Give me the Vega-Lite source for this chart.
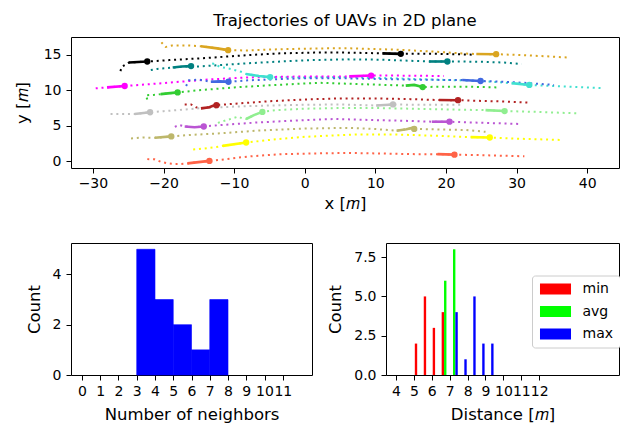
{
  "$schema": "https://vega.github.io/schema/vega-lite/v6.json",
  "padding": {"left": 13, "top": 12, "right": 0, "bottom": 0},
  "spacing": 30,
  "resolve": {"scale": {"color": "independent"}, "legend": {"color": "independent"}},
  "config": {
    "font": "DejaVu Sans",
    "view": {"stroke": "#000", "strokeWidth": 1},
    "axis": {"grid": false, "domain": false, "tickColor": "#000", "tickSize": 5, "tickWidth": 1, "labelColor": "#000", "labelFontSize": 14, "labelPadding": 3, "titleColor": "#000", "titleFontSize": 16.5, "titleFontWeight": "normal", "labelFlush": false, "labelOverlap": false},
    "axisY": {"labelPadding": 5},
    "title": {"fontSize": 16.5, "fontWeight": "normal", "color": "#000"}
  },
  "datasets": {
    "paths": [
      {"u":"U01","i":0,"x":-20.3,"y":16.75},{"u":"U01","i":1,"x":-19.7,"y":16.1},{"u":"U01","i":2,"x":-18.8,"y":16.3},{"u":"U01","i":3,"x":-16.4,"y":16.3},{"u":"U01","i":4,"x":-14.7,"y":16.2},{"u":"U01","i":5,"x":-12.4,"y":15.9},{"u":"U01","i":6,"x":-10.85,"y":15.65},{"u":"U01","i":7,"x":-8.3,"y":15.6},{"u":"U01","i":8,"x":-5.7,"y":15.7},{"u":"U01","i":9,"x":-2.9,"y":15.8},{"u":"U01","i":10,"x":0,"y":15.85},{"u":"U01","i":11,"x":3,"y":15.9},{"u":"U01","i":12,"x":6.5,"y":15.9},{"u":"U01","i":13,"x":10,"y":15.8},{"u":"U01","i":14,"x":13.4,"y":15.7},{"u":"U01","i":15,"x":18.1,"y":15.45},{"u":"U01","i":16,"x":22,"y":15.2},{"u":"U01","i":17,"x":24.3,"y":15.1},{"u":"U01","i":18,"x":27.1,"y":15.08},{"u":"U01","i":19,"x":30.6,"y":14.95},{"u":"U01","i":20,"x":33.9,"y":14.8},{"u":"U01","i":21,"x":37.4,"y":14.6},
      {"u":"U02","i":0,"x":-26.1,"y":12.7},{"u":"U02","i":1,"x":-25.9,"y":13.3},{"u":"U02","i":2,"x":-25.1,"y":13.8},{"u":"U02","i":3,"x":-24.9,"y":13.9},{"u":"U02","i":4,"x":-22.3,"y":14.05},{"u":"U02","i":5,"x":-19.2,"y":14.25},{"u":"U02","i":6,"x":-16.4,"y":14.4},{"u":"U02","i":7,"x":-13.1,"y":14.6},{"u":"U02","i":8,"x":-8.1,"y":14.95},{"u":"U02","i":9,"x":-3.4,"y":15.2},{"u":"U02","i":10,"x":1.3,"y":15.3},{"u":"U02","i":11,"x":6,"y":15.3},{"u":"U02","i":12,"x":11,"y":15.2},{"u":"U02","i":13,"x":13.6,"y":15.13},{"u":"U02","i":14,"x":17,"y":15.15},{"u":"U02","i":15,"x":20.4,"y":15.1},{"u":"U02","i":16,"x":24,"y":15.0},
      {"u":"U03","i":0,"x":-21.8,"y":12.85},{"u":"U03","i":1,"x":-20.9,"y":13.0},{"u":"U03","i":2,"x":-18.7,"y":13.2},{"u":"U03","i":3,"x":-16.1,"y":13.4},{"u":"U03","i":4,"x":-15,"y":13.35},{"u":"U03","i":5,"x":-12.8,"y":13.5},{"u":"U03","i":6,"x":-8,"y":13.8},{"u":"U03","i":7,"x":-3.4,"y":14.05},{"u":"U03","i":8,"x":1,"y":14.25},{"u":"U03","i":9,"x":6,"y":14.35},{"u":"U03","i":10,"x":11,"y":14.3},{"u":"U03","i":11,"x":15,"y":14.15},{"u":"U03","i":12,"x":17.6,"y":14.05},{"u":"U03","i":13,"x":20.2,"y":14.05},{"u":"U03","i":14,"x":22,"y":14.05},{"u":"U03","i":15,"x":25.3,"y":14.0},{"u":"U03","i":16,"x":28.2,"y":13.9},{"u":"U03","i":17,"x":30.7,"y":13.7},
      {"u":"U04","i":0,"x":-13.1,"y":13.8},{"u":"U04","i":1,"x":-12,"y":13.3},{"u":"U04","i":2,"x":-10.5,"y":13.0},{"u":"U04","i":3,"x":-9,"y":12.6},{"u":"U04","i":4,"x":-8.3,"y":12.3},{"u":"U04","i":5,"x":-6.5,"y":12.0},{"u":"U04","i":6,"x":-4.9,"y":11.85},{"u":"U04","i":7,"x":0,"y":11.8},{"u":"U04","i":8,"x":5,"y":11.85},{"u":"U04","i":9,"x":10,"y":11.75},{"u":"U04","i":10,"x":15,"y":11.6},{"u":"U04","i":11,"x":20,"y":11.45},{"u":"U04","i":12,"x":25,"y":11.3},{"u":"U04","i":13,"x":29.3,"y":11.0},{"u":"U04","i":14,"x":31.8,"y":10.75},{"u":"U04","i":15,"x":35,"y":10.6},{"u":"U04","i":16,"x":38.5,"y":10.45},{"u":"U04","i":17,"x":42.2,"y":10.3},
      {"u":"U05","i":0,"x":-29.6,"y":10.27},{"u":"U05","i":1,"x":-28.6,"y":10.35},{"u":"U05","i":2,"x":-28,"y":10.4},{"u":"U05","i":3,"x":-25.5,"y":10.6},{"u":"U05","i":4,"x":-23.4,"y":10.75},{"u":"U05","i":5,"x":-20.1,"y":11.0},{"u":"U05","i":6,"x":-16.4,"y":11.3},{"u":"U05","i":7,"x":-13.1,"y":11.55},{"u":"U05","i":8,"x":-8.1,"y":11.8},{"u":"U05","i":9,"x":-3.4,"y":11.9},{"u":"U05","i":10,"x":1.3,"y":11.95},{"u":"U05","i":11,"x":6.3,"y":11.95},{"u":"U05","i":12,"x":9.4,"y":12.07},{"u":"U05","i":13,"x":11,"y":12.07},{"u":"U05","i":14,"x":15.7,"y":12.05},{"u":"U05","i":15,"x":19.7,"y":12.0},
      {"u":"U06","i":0,"x":-16.8,"y":10.6},{"u":"U06","i":1,"x":-16.4,"y":11.4},{"u":"U06","i":2,"x":-15,"y":11.5},{"u":"U06","i":3,"x":-13.3,"y":11.2},{"u":"U06","i":4,"x":-12,"y":11.25},{"u":"U06","i":5,"x":-10.8,"y":11.2},{"u":"U06","i":6,"x":-8,"y":11.4},{"u":"U06","i":7,"x":-4,"y":11.55},{"u":"U06","i":8,"x":0,"y":11.7},{"u":"U06","i":9,"x":5,"y":11.7},{"u":"U06","i":10,"x":10,"y":11.6},{"u":"U06","i":11,"x":15,"y":11.5},{"u":"U06","i":12,"x":20,"y":11.45},{"u":"U06","i":13,"x":22.3,"y":11.45},{"u":"U06","i":14,"x":24.9,"y":11.3},{"u":"U06","i":15,"x":27,"y":11.25},{"u":"U06","i":16,"x":31,"y":11.05},{"u":"U06","i":17,"x":35.3,"y":10.75},
      {"u":"U07","i":0,"x":-22.3,"y":8.7},{"u":"U07","i":1,"x":-22.5,"y":9.3},{"u":"U07","i":2,"x":-21.3,"y":9.35},{"u":"U07","i":3,"x":-20.4,"y":9.45},{"u":"U07","i":4,"x":-18,"y":9.7},{"u":"U07","i":5,"x":-15,"y":10.0},{"u":"U07","i":6,"x":-10,"y":10.4},{"u":"U07","i":7,"x":-5,"y":10.7},{"u":"U07","i":8,"x":0,"y":10.95},{"u":"U07","i":9,"x":2,"y":11.05},{"u":"U07","i":10,"x":5,"y":10.95},{"u":"U07","i":11,"x":10,"y":10.8},{"u":"U07","i":12,"x":14.3,"y":10.65},{"u":"U07","i":13,"x":15.5,"y":10.75},{"u":"U07","i":14,"x":16.7,"y":10.45},{"u":"U07","i":15,"x":19,"y":10.5},{"u":"U07","i":16,"x":23,"y":10.5},{"u":"U07","i":17,"x":27.3,"y":10.4},
      {"u":"U08","i":0,"x":-17,"y":8.0},{"u":"U08","i":1,"x":-16.1,"y":8.0},{"u":"U08","i":2,"x":-15.4,"y":7.6},{"u":"U08","i":3,"x":-14.7,"y":7.45},{"u":"U08","i":4,"x":-13.5,"y":7.6},{"u":"U08","i":5,"x":-13,"y":7.8},{"u":"U08","i":6,"x":-12.5,"y":7.9},{"u":"U08","i":7,"x":-10,"y":8.1},{"u":"U08","i":8,"x":-5,"y":8.45},{"u":"U08","i":9,"x":0,"y":8.7},{"u":"U08","i":10,"x":5,"y":8.85},{"u":"U08","i":11,"x":10,"y":8.85},{"u":"U08","i":12,"x":15,"y":8.75},{"u":"U08","i":13,"x":19,"y":8.62},{"u":"U08","i":14,"x":21.7,"y":8.6},{"u":"U08","i":15,"x":25,"y":8.5},{"u":"U08","i":16,"x":28.7,"y":8.4},{"u":"U08","i":17,"x":32,"y":8.25},
      {"u":"U09","i":0,"x":-27.5,"y":6.65},{"u":"U09","i":1,"x":-25.8,"y":6.65},{"u":"U09","i":2,"x":-24.1,"y":6.65},{"u":"U09","i":3,"x":-21.9,"y":6.9},{"u":"U09","i":4,"x":-20,"y":7.05},{"u":"U09","i":5,"x":-15,"y":7.45},{"u":"U09","i":6,"x":-10,"y":7.7},{"u":"U09","i":7,"x":-5,"y":7.85},{"u":"U09","i":8,"x":0,"y":7.95},{"u":"U09","i":9,"x":5,"y":8.0},{"u":"U09","i":10,"x":10.1,"y":7.85},{"u":"U09","i":11,"x":12.5,"y":8.0},{"u":"U09","i":12,"x":16,"y":7.95},{"u":"U09","i":13,"x":22.4,"y":7.95},
      {"u":"U10","i":0,"x":-12.3,"y":5.4},{"u":"U10","i":1,"x":-11.2,"y":5.75},{"u":"U10","i":2,"x":-10.2,"y":6.05},{"u":"U10","i":3,"x":-9.4,"y":6.3},{"u":"U10","i":4,"x":-8.8,"y":6.0},{"u":"U10","i":5,"x":-8.3,"y":5.95},{"u":"U10","i":6,"x":-7.2,"y":6.5},{"u":"U10","i":7,"x":-6,"y":6.95},{"u":"U10","i":8,"x":-4.1,"y":7.2},{"u":"U10","i":9,"x":0,"y":7.4},{"u":"U10","i":10,"x":5,"y":7.5},{"u":"U10","i":11,"x":10,"y":7.5},{"u":"U10","i":12,"x":15,"y":7.4},{"u":"U10","i":13,"x":20,"y":7.3},{"u":"U10","i":14,"x":25.6,"y":7.2},{"u":"U10","i":15,"x":28.3,"y":7.07},{"u":"U10","i":16,"x":33,"y":6.95},{"u":"U10","i":17,"x":38.5,"y":6.75},
      {"u":"U11","i":0,"x":-18.4,"y":4.85},{"u":"U11","i":1,"x":-17.8,"y":5.1},{"u":"U11","i":2,"x":-17,"y":4.9},{"u":"U11","i":3,"x":-15.6,"y":4.8},{"u":"U11","i":4,"x":-14.3,"y":4.9},{"u":"U11","i":5,"x":-11.9,"y":5.1},{"u":"U11","i":6,"x":-6.9,"y":5.45},{"u":"U11","i":7,"x":0,"y":5.8},{"u":"U11","i":8,"x":4.3,"y":5.95},{"u":"U11","i":9,"x":9.9,"y":5.8},{"u":"U11","i":10,"x":15.5,"y":5.66},{"u":"U11","i":11,"x":18,"y":5.57},{"u":"U11","i":12,"x":20.5,"y":5.57},{"u":"U11","i":13,"x":23.9,"y":5.45},{"u":"U11","i":14,"x":30.6,"y":5.25},
      {"u":"U12","i":0,"x":-24.6,"y":3.2},{"u":"U12","i":1,"x":-22.9,"y":3.35},{"u":"U12","i":2,"x":-21.2,"y":3.3},{"u":"U12","i":3,"x":-18.9,"y":3.5},{"u":"U12","i":4,"x":-16.4,"y":3.7},{"u":"U12","i":5,"x":-12.5,"y":3.9},{"u":"U12","i":6,"x":-6.9,"y":4.3},{"u":"U12","i":7,"x":0,"y":4.6},{"u":"U12","i":8,"x":6,"y":4.7},{"u":"U12","i":9,"x":9.9,"y":4.55},{"u":"U12","i":10,"x":13,"y":4.3},{"u":"U12","i":11,"x":14.4,"y":4.5},{"u":"U12","i":12,"x":15.2,"y":4.7},{"u":"U12","i":13,"x":15.5,"y":4.55},{"u":"U12","i":14,"x":18.3,"y":4.5},{"u":"U12","i":15,"x":22.8,"y":4.4},{"u":"U12","i":16,"x":25.6,"y":4.15},
      {"u":"U13","i":0,"x":-15.8,"y":1.65},{"u":"U13","i":1,"x":-14.2,"y":1.8},{"u":"U13","i":2,"x":-12.5,"y":2.0},{"u":"U13","i":3,"x":-11.6,"y":2.17},{"u":"U13","i":4,"x":-8.3,"y":2.64},{"u":"U13","i":5,"x":-4.1,"y":3.1},{"u":"U13","i":6,"x":0,"y":3.44},{"u":"U13","i":7,"x":7.1,"y":3.77},{"u":"U13","i":8,"x":12.7,"y":3.77},{"u":"U13","i":9,"x":18.3,"y":3.6},{"u":"U13","i":10,"x":23.5,"y":3.4},{"u":"U13","i":11,"x":26.2,"y":3.35},{"u":"U13","i":12,"x":29.5,"y":3.2},{"u":"U13","i":13,"x":36.2,"y":3.0},
      {"u":"U14","i":0,"x":-22.3,"y":0.3},{"u":"U14","i":1,"x":-21.3,"y":0.28},{"u":"U14","i":2,"x":-20.4,"y":-0.07},{"u":"U14","i":3,"x":-19.4,"y":-0.3},{"u":"U14","i":4,"x":-18.5,"y":-0.4},{"u":"U14","i":5,"x":-17.6,"y":-0.4},{"u":"U14","i":6,"x":-16.6,"y":-0.3},{"u":"U14","i":7,"x":-13.5,"y":0.05},{"u":"U14","i":8,"x":-12.8,"y":0.1},{"u":"U14","i":9,"x":-8.1,"y":0.66},{"u":"U14","i":10,"x":-3.4,"y":1.0},{"u":"U14","i":11,"x":1.3,"y":1.1},{"u":"U14","i":12,"x":6.3,"y":1.17},{"u":"U14","i":13,"x":15.7,"y":1.0},{"u":"U14","i":14,"x":18.8,"y":1.0},{"u":"U14","i":15,"x":21.2,"y":0.93},{"u":"U14","i":16,"x":25.4,"y":0.85},{"u":"U14","i":17,"x":31.1,"y":0.7}
    ],
    "tails": [
      {"u":"U01","s":"a","i":0,"x":-14.7,"y":16.2},{"u":"U01","s":"a","i":1,"x":-12.4,"y":15.9},{"u":"U01","s":"a","i":2,"x":-10.85,"y":15.65},
      {"u":"U01","s":"b","i":0,"x":24.3,"y":15.1},{"u":"U01","s":"b","i":1,"x":27.1,"y":15.08},
      {"u":"U02","s":"a","i":0,"x":-24.9,"y":13.9},{"u":"U02","s":"a","i":1,"x":-22.3,"y":14.05},
      {"u":"U02","s":"b","i":0,"x":11,"y":15.2},{"u":"U02","s":"b","i":1,"x":13.6,"y":15.13},
      {"u":"U03","s":"a","i":0,"x":-18.7,"y":13.2},{"u":"U03","s":"a","i":1,"x":-17.4,"y":13.35},{"u":"U03","s":"a","i":2,"x":-16.1,"y":13.4},
      {"u":"U03","s":"b","i":0,"x":17.6,"y":14.05},{"u":"U03","s":"b","i":1,"x":20.2,"y":14.05},
      {"u":"U04","s":"a","i":0,"x":-8.3,"y":12.3},{"u":"U04","s":"a","i":1,"x":-6.5,"y":12.0},{"u":"U04","s":"a","i":2,"x":-4.9,"y":11.85},
      {"u":"U04","s":"b","i":0,"x":29.3,"y":11.0},{"u":"U04","s":"b","i":1,"x":31.8,"y":10.75},
      {"u":"U05","s":"a","i":0,"x":-28,"y":10.4},{"u":"U05","s":"a","i":1,"x":-25.5,"y":10.6},
      {"u":"U05","s":"b","i":0,"x":6.3,"y":11.95},{"u":"U05","s":"b","i":1,"x":9.4,"y":12.07},
      {"u":"U06","s":"a","i":0,"x":-13.3,"y":11.2},{"u":"U06","s":"a","i":1,"x":-12,"y":11.25},{"u":"U06","s":"a","i":2,"x":-10.8,"y":11.2},
      {"u":"U06","s":"b","i":0,"x":22.3,"y":11.45},{"u":"U06","s":"b","i":1,"x":24.9,"y":11.3},
      {"u":"U07","s":"a","i":0,"x":-20.4,"y":9.45},{"u":"U07","s":"a","i":1,"x":-18,"y":9.7},
      {"u":"U07","s":"b","i":0,"x":14.3,"y":10.65},{"u":"U07","s":"b","i":1,"x":15.5,"y":10.75},{"u":"U07","s":"b","i":2,"x":16.7,"y":10.45},
      {"u":"U08","s":"a","i":0,"x":-14.7,"y":7.45},{"u":"U08","s":"a","i":1,"x":-13.5,"y":7.6},{"u":"U08","s":"a","i":2,"x":-13,"y":7.8},{"u":"U08","s":"a","i":3,"x":-12.5,"y":7.9},
      {"u":"U08","s":"b","i":0,"x":19,"y":8.62},{"u":"U08","s":"b","i":1,"x":21.7,"y":8.6},
      {"u":"U09","s":"a","i":0,"x":-24.1,"y":6.65},{"u":"U09","s":"a","i":1,"x":-21.9,"y":6.9},
      {"u":"U09","s":"b","i":0,"x":10.1,"y":7.85},{"u":"U09","s":"b","i":1,"x":12.5,"y":8.0},
      {"u":"U10","s":"a","i":0,"x":-8.3,"y":5.95},{"u":"U10","s":"a","i":1,"x":-7.2,"y":6.5},{"u":"U10","s":"a","i":2,"x":-6,"y":6.95},
      {"u":"U10","s":"b","i":0,"x":25.6,"y":7.2},{"u":"U10","s":"b","i":1,"x":28.3,"y":7.07},
      {"u":"U11","s":"a","i":0,"x":-17,"y":4.9},{"u":"U11","s":"a","i":1,"x":-15.6,"y":4.8},{"u":"U11","s":"a","i":2,"x":-14.3,"y":4.9},
      {"u":"U11","s":"b","i":0,"x":18,"y":5.57},{"u":"U11","s":"b","i":1,"x":20.5,"y":5.57},
      {"u":"U12","s":"a","i":0,"x":-21.2,"y":3.3},{"u":"U12","s":"a","i":1,"x":-18.9,"y":3.5},
      {"u":"U12","s":"b","i":0,"x":13,"y":4.3},{"u":"U12","s":"b","i":1,"x":14.4,"y":4.5},{"u":"U12","s":"b","i":2,"x":15.2,"y":4.7},{"u":"U12","s":"b","i":3,"x":15.5,"y":4.55},
      {"u":"U13","s":"a","i":0,"x":-11.6,"y":2.17},{"u":"U13","s":"a","i":1,"x":-8.3,"y":2.64},
      {"u":"U13","s":"b","i":0,"x":23.5,"y":3.4},{"u":"U13","s":"b","i":1,"x":26.2,"y":3.35},
      {"u":"U14","s":"a","i":0,"x":-16.6,"y":-0.3},{"u":"U14","s":"a","i":1,"x":-13.5,"y":0.05},
      {"u":"U14","s":"b","i":0,"x":18.8,"y":1.0},{"u":"U14","s":"b","i":1,"x":21.2,"y":0.93}
    ],
    "pos": [
      {"u":"U01","x":-10.85,"y":15.65},{"u":"U01","x":27.1,"y":15.08},
      {"u":"U02","x":-22.3,"y":14.05},{"u":"U02","x":13.6,"y":15.13},
      {"u":"U03","x":-16.1,"y":13.4},{"u":"U03","x":20.2,"y":14.05},
      {"u":"U04","x":-4.9,"y":11.85},{"u":"U04","x":31.8,"y":10.75},
      {"u":"U05","x":-25.5,"y":10.6},{"u":"U05","x":9.4,"y":12.07},
      {"u":"U06","x":-10.8,"y":11.2},{"u":"U06","x":24.9,"y":11.3},
      {"u":"U07","x":-18,"y":9.7},{"u":"U07","x":16.7,"y":10.45},
      {"u":"U08","x":-12.5,"y":7.9},{"u":"U08","x":21.7,"y":8.6},
      {"u":"U09","x":-21.9,"y":6.9},{"u":"U09","x":12.5,"y":8.0},
      {"u":"U10","x":-6,"y":6.95},{"u":"U10","x":28.3,"y":7.07},
      {"u":"U11","x":-14.3,"y":4.9},{"u":"U11","x":20.5,"y":5.57},
      {"u":"U12","x":-18.9,"y":3.5},{"u":"U12","x":15.5,"y":4.55},
      {"u":"U13","x":-8.3,"y":2.64},{"u":"U13","x":26.2,"y":3.35},
      {"u":"U14","x":-13.5,"y":0.05},{"u":"U14","x":21.2,"y":0.93}
    ],
    "neighbors": [
      {"lo":3,"hi":4,"count":5},{"lo":4,"hi":5,"count":3},{"lo":5,"hi":6,"count":2},{"lo":6,"hi":7,"count":1},{"lo":7,"hi":8,"count":3}
    ],
    "distance": [
      {"stat":"min","lo":5.05,"hi":5.183,"count":2},{"stat":"min","lo":5.55,"hi":5.683,"count":5},{"stat":"min","lo":6.05,"hi":6.183,"count":3},{"stat":"min","lo":6.55,"hi":6.683,"count":4},
      {"stat":"avg","lo":6.683,"hi":6.817,"count":6},{"stat":"avg","lo":7.183,"hi":7.317,"count":8},
      {"stat":"max","lo":7.317,"hi":7.45,"count":4},{"stat":"max","lo":7.817,"hi":7.95,"count":1},{"stat":"max","lo":8.317,"hi":8.45,"count":5},{"stat":"max","lo":8.817,"hi":8.95,"count":2},{"stat":"max","lo":9.317,"hi":9.45,"count":2}
    ]
  },
  "vconcat": [
    {
      "title": {"text": "Trajectories of UAVs in 2D plane", "baseline": "alphabetic", "offset": -5},
      "width": 548,
      "height": 131,
      "encoding": {
        "x": {"field": "x", "type": "quantitative", "scale": {"domain": [-33.1, 44.5], "nice": false, "zero": false}, "axis": {"values": [-30, -20, -10, 0, 10, 20, 30, 40], "title": "x [𝑚]", "titlePadding": 5}},
        "y": {"field": "y", "type": "quantitative", "scale": {"domain": [-0.95, 17.5], "nice": false, "zero": false}, "axis": {"values": [0, 5, 10, 15], "title": "y [𝑚]", "titlePadding": 13}},
        "color": {"field": "u", "type": "nominal", "legend": null, "scale": {"domain": ["U01","U02","U03","U04","U05","U06","U07","U08","U09","U10","U11","U12","U13","U14"], "range": ["#daa520","#000000","#008080","#40e0d0","#ff00ff","#4169e1","#32cd32","#b22222","#c0c0c0","#90ee90","#ba55d3","#bdb76b","#ffff00","#ff6347"]}}
      },
      "layer": [
        {"data": {"name": "paths"}, "mark": {"type": "line", "strokeWidth": 2, "strokeDash": [2, 3.8], "strokeCap": "butt", "clip": true}, "encoding": {"order": {"field": "i", "type": "quantitative"}}},
        {"data": {"name": "tails"}, "mark": {"type": "line", "strokeWidth": 2.6, "clip": true}, "encoding": {"detail": {"field": "s"}, "order": {"field": "i", "type": "quantitative"}}},
        {"data": {"name": "pos"}, "mark": {"type": "point", "filled": true, "size": 40, "opacity": 1, "clip": true}, "encoding": {}}
      ]
    },
    {
      "spacing": 14,
      "resolve": {"scale": {"color": "independent"}},
      "hconcat": [
        {
          "width": 241,
          "height": 132,
          "data": {"name": "neighbors"},
          "mark": {"type": "bar", "color": "#0000ff", "stroke": "#0000ff", "strokeWidth": 0.6},
          "encoding": {
            "x": {"field": "lo", "type": "quantitative", "scale": {"domain": [-0.6, 12.6], "nice": false, "zero": false}, "axis": {"values": [0,1,2,3,4,5,6,7,8,9,10,11], "title": "Number of neighbors", "labelPadding": 4, "titlePadding": 8}},
            "x2": {"field": "hi"},
            "y": {"field": "count", "type": "quantitative", "scale": {"domain": [0, 5.25], "nice": false}, "axis": {"values": [0, 2, 4], "title": "Count", "titlePadding": 10}},
            "y2": {"datum": 0}
          }
        },
        {
          "width": 233,
          "height": 132,
          "data": {"name": "distance"},
          "mark": {"type": "bar"},
          "encoding": {
            "x": {"field": "lo", "type": "quantitative", "scale": {"domain": [3.44, 16.46], "nice": false, "zero": false}, "axis": {"values": [4,5,6,7,8,9,10,11,12], "title": "Distance [𝑚]", "labelPadding": 4, "titlePadding": 8}},
            "x2": {"field": "hi"},
            "y": {"field": "count", "type": "quantitative", "scale": {"domain": [0, 8.4], "nice": false}, "axis": {"values": [0, 2.5, 5, 7.5], "format": ".1f", "title": "Count", "titlePadding": 10}},
            "y2": {"datum": 0},
            "color": {"field": "stat", "type": "nominal", "scale": {"domain": ["min", "avg", "max"], "range": ["#ff0000", "#00ff00", "#0000ff"]}, "legend": {"orient": "none", "legendX": 146, "legendY": 32.5, "title": null, "symbolType": "M-2.82,-1H2.82V1H-2.82Z", "symbolSize": 121, "symbolOffset": 10, "symbolStrokeWidth": 0, "labelFontSize": 14, "labelColor": "#000", "labelOffset": 20, "rowPadding": 8.5, "padding": 6.5, "fillColor": "#ffffff", "strokeColor": "#cccccc", "cornerRadius": 3}}
          }
        }
      ]
    }
  ]
}
